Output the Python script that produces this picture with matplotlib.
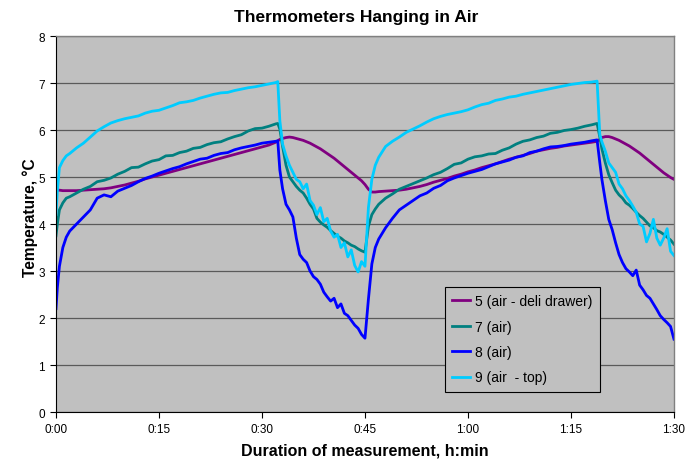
import numpy as np
import matplotlib
matplotlib.use("Agg")
import matplotlib.pyplot as plt

plt.rcParams['font.family'] = ['Liberation Sans', 'DejaVu Sans']

# sampling times, minutes from start (finer around the door openings)
minutes = np.r_[0, 0.2, 0.5, 1, 1.5, 2, np.arange(3, 33), 32.3, 32.6,
                np.arange(33, 47.5, 0.5), np.arange(48, 79), 78.8, 79.2,
                np.arange(79.5, 90.5, 0.5)]
minutes = np.sort(minutes)

t5_deli = [
    4.74, 4.72, 4.72, 4.71, 4.71, 4.71,
    4.71, 4.72, 4.73, 4.74, 4.75, 4.77, 4.80, 4.83, 4.87, 4.91,
    4.96, 5.00, 5.04, 5.08, 5.12, 5.16, 5.20, 5.24, 5.28, 5.32,
    5.36, 5.40, 5.44, 5.48, 5.52, 5.56, 5.60, 5.64, 5.68, 5.74,
    5.77, 5.80, 5.82,
    5.84, 5.85, 5.84, 5.82, 5.80, 5.78, 5.75, 5.72, 5.68, 5.64,
    5.60, 5.55, 5.50, 5.45, 5.40, 5.34, 5.28, 5.22, 5.16, 5.10,
    5.04, 4.98, 4.92, 4.84, 4.74, 4.68, 4.68, 4.69,
    4.70, 4.71, 4.72, 4.74, 4.77, 4.80, 4.84, 4.89, 4.93, 4.97,
    5.02, 5.06, 5.11, 5.15, 5.20, 5.24, 5.28, 5.33, 5.38, 5.42,
    5.46, 5.50, 5.55, 5.58, 5.61, 5.63, 5.66, 5.68, 5.70, 5.72,
    5.74, 5.76, 5.80,
    5.84, 5.86, 5.86, 5.84, 5.81, 5.78, 5.74, 5.70, 5.66, 5.61,
    5.56, 5.51, 5.45, 5.39, 5.33, 5.27, 5.21, 5.15, 5.09, 5.04,
    4.99, 4.95]

t7_air = [
    3.75, 4.00, 4.30, 4.45, 4.55, 4.58,
    4.66, 4.74, 4.80, 4.90, 4.93, 4.98, 5.06, 5.12, 5.20, 5.21,
    5.28, 5.34, 5.37, 5.45, 5.46, 5.52, 5.55, 5.61, 5.63, 5.69,
    5.73, 5.75, 5.81, 5.86, 5.90, 5.98, 6.03, 6.04, 6.08, 6.13,
    6.14, 6.02, 5.65,
    5.25, 5.00, 4.90, 4.80, 4.72, 4.66, 4.55, 4.42, 4.32, 4.12,
    4.04, 3.98, 3.93, 3.86, 3.80, 3.74, 3.70, 3.64, 3.60, 3.55,
    3.52, 3.47, 3.43, 3.40, 3.95, 4.20, 4.32, 4.42,
    4.55, 4.64, 4.74, 4.80, 4.86, 4.92, 4.98, 5.05, 5.10, 5.18,
    5.27, 5.30, 5.38, 5.43, 5.45, 5.49, 5.50, 5.57, 5.62, 5.70,
    5.76, 5.79, 5.84, 5.87, 5.93, 5.95, 5.99, 6.01, 6.04, 6.08,
    6.11, 6.14, 5.85,
    5.60, 5.30, 5.05, 4.88, 4.72, 4.62, 4.55, 4.45, 4.40, 4.33,
    4.25, 4.18, 4.12, 4.04, 3.96, 3.92, 3.86, 3.83, 3.78, 3.72,
    3.66, 3.57]

t8_air = [
    2.20, 2.65, 3.10, 3.50, 3.72, 3.85,
    4.00, 4.15, 4.30, 4.55, 4.62, 4.58, 4.70, 4.76, 4.82, 4.90,
    4.97, 5.02, 5.08, 5.13, 5.18, 5.22, 5.28, 5.33, 5.38, 5.40,
    5.46, 5.50, 5.52, 5.58, 5.62, 5.65, 5.68, 5.72, 5.74, 5.76,
    5.77, 5.15, 4.75,
    4.42, 4.30, 4.15, 3.70, 3.35, 3.25, 3.18, 3.00, 2.88, 2.82,
    2.72, 2.55, 2.45, 2.36, 2.42, 2.22, 2.30, 2.10, 2.05, 1.95,
    1.85, 1.78, 1.65, 1.57, 2.40, 3.15, 3.50, 3.68,
    3.92, 4.12, 4.30, 4.40, 4.50, 4.60, 4.66, 4.76, 4.82, 4.92,
    4.98, 5.03, 5.08, 5.12, 5.16, 5.22, 5.28, 5.32, 5.36, 5.42,
    5.45, 5.52, 5.55, 5.60, 5.64, 5.65, 5.67, 5.70, 5.72, 5.74,
    5.77, 5.79, 5.30,
    4.95, 4.50, 4.10, 3.88, 3.60, 3.35, 3.18, 3.05, 2.98, 2.90,
    3.02, 2.70, 2.60, 2.48, 2.42, 2.30, 2.18, 2.05, 1.97, 1.90,
    1.82, 1.55]

t9_top = [
    4.20, 4.70, 5.20, 5.35, 5.45, 5.50,
    5.62, 5.72, 5.85, 5.98, 6.07, 6.15, 6.20, 6.24, 6.27, 6.30,
    6.36, 6.40, 6.42, 6.47, 6.52, 6.58, 6.60, 6.63, 6.68, 6.72,
    6.76, 6.79, 6.80, 6.84, 6.87, 6.90, 6.92, 6.95, 6.98, 7.01,
    7.03, 6.20, 5.70,
    5.45, 5.25, 5.10, 4.95, 4.90, 4.75, 4.85, 4.50, 4.40, 4.20,
    4.35, 4.05, 4.12, 3.85, 3.72, 3.78, 3.50, 3.60, 3.30, 3.45,
    3.12, 2.98, 3.20, 3.10, 4.35, 4.95, 5.25, 5.42,
    5.65, 5.76, 5.85, 5.95, 6.02, 6.09, 6.17, 6.24, 6.29, 6.33,
    6.36, 6.39, 6.43, 6.49, 6.54, 6.57, 6.63, 6.66, 6.70, 6.72,
    6.76, 6.79, 6.82, 6.85, 6.88, 6.91, 6.94, 6.97, 6.99, 7.01,
    7.02, 7.04, 5.90,
    5.75, 5.55, 5.30, 5.20, 5.10, 4.85, 4.75, 4.60, 4.50, 4.38,
    4.25, 4.00, 3.95, 3.62, 3.80, 4.10, 3.70, 3.55, 3.70, 3.90,
    3.42, 3.33]

series = [
    ("5 (air - deli drawer)", t5_deli, "#800080"),
    ("7 (air)", t7_air, "#008080"),
    ("8 (air)", t8_air, "#0000FF"),
    ("9 (air  - top)", t9_top, "#00CCFF"),
]

tick_minutes = [0, 15, 30, 45, 60, 75, 90]
tick_labels = ["0:00", "0:15", "0:30", "0:45", "1:00", "1:15", "1:30"]

fig = plt.figure(figsize=(6.98, 4.64), dpi=100)
ax = fig.add_axes([0.0802, 0.1099, 0.8854, 0.8103])
ax.set_facecolor("#C0C0C0")

for name, vals, col in series:
    ax.plot(minutes, vals, color=col, lw=2.0, label=name)

ax.set_xlim(0, 90)
ax.set_ylim(0, 8)
ax.set_xticks(tick_minutes)
ax.set_xticklabels(tick_labels)
ax.set_yticks(range(0, 9))
ax.yaxis.grid(True, color="#5a5a5a", lw=0.9)
ax.set_axisbelow(True)
ax.tick_params(direction="out", length=4, width=0.8, labelsize=8.5, pad=4)

for side in ["top", "right"]:
    ax.spines[side].set_color("#808080")
    ax.spines[side].set_linewidth(1.0)
for side in ["left", "bottom"]:
    ax.spines[side].set_color("black")
    ax.spines[side].set_linewidth(0.8)

fig.text(0.511, 0.962, "Thermometers Hanging in Air", fontsize=12.5,
         fontweight="bold", ha="center", va="center")
ax.set_xlabel("Duration of measurement, h:min", fontsize=11.5, fontweight="bold", labelpad=5)
ax.set_ylabel("Temperature, °C", fontsize=11.2, fontweight="bold")
ax.yaxis.set_label_coords(-0.029, 0.52)

leg = ax.legend(loc="lower left", bbox_to_anchor=(0.629, 0.053), fontsize=10,
                frameon=True, fancybox=False, handlelength=1.3, handletextpad=0.3,
                labelspacing=0.82, borderpad=0.55, borderaxespad=0)
leg.get_frame().set_facecolor("#C0C0C0")
leg.get_frame().set_edgecolor("black")
leg.get_frame().set_linewidth(0.8)
leg.get_frame().set_alpha(1)

fig.savefig("out.png", dpi=100)
